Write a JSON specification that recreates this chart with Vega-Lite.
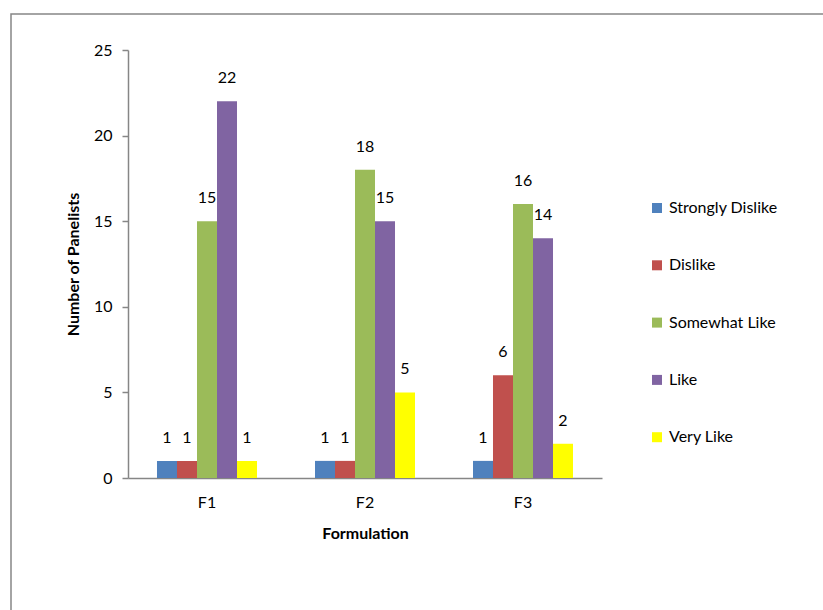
{
  "$schema": "https://vega.github.io/schema/vega-lite/v6.json",
  "width": 818,
  "height": 602,
  "autosize": "none",
  "padding": {"left": 11, "top": 14, "right": -6, "bottom": -6},
  "background": "white",
  "config": {
    "font": "Lato",
    "view": {"stroke": "#868686", "strokeWidth": 1.5},
    "axis": {"domainColor": "#868686", "domainWidth": 1.5, "tickColor": "#868686", "tickWidth": 1.5, "labelColor": "#000000", "titleColor": "#000000", "labelFont": "Lato", "titleFont": "Lato", "labelFontSize": 16, "titleFontSize": 16, "titleFontWeight": "bold", "grid": false}
  },
  "data": {
    "values": [
      {"formulation": "F1", "rating": "Strongly Dislike", "count": 1},
      {"formulation": "F1", "rating": "Dislike", "count": 1},
      {"formulation": "F1", "rating": "Somewhat Like", "count": 15},
      {"formulation": "F1", "rating": "Like", "count": 22},
      {"formulation": "F1", "rating": "Very Like", "count": 1},
      {"formulation": "F2", "rating": "Strongly Dislike", "count": 1},
      {"formulation": "F2", "rating": "Dislike", "count": 1},
      {"formulation": "F2", "rating": "Somewhat Like", "count": 18},
      {"formulation": "F2", "rating": "Like", "count": 15},
      {"formulation": "F2", "rating": "Very Like", "count": 5},
      {"formulation": "F3", "rating": "Strongly Dislike", "count": 1},
      {"formulation": "F3", "rating": "Dislike", "count": 6},
      {"formulation": "F3", "rating": "Somewhat Like", "count": 16},
      {"formulation": "F3", "rating": "Like", "count": 14},
      {"formulation": "F3", "rating": "Very Like", "count": 2}
    ]
  },
  "encoding": {
    "x": {
      "field": "formulation", "type": "nominal",
      "scale": {"range": [117, 591], "paddingInner": 0.367, "paddingOuter": 0.1835},
      "axis": {"title": "Formulation", "labelAngle": 0, "ticks": false, "offset": -138, "labelPadding": 16, "titlePadding": 15}
    },
    "xOffset": {
      "field": "rating", "type": "nominal",
      "sort": ["Strongly Dislike", "Dislike", "Somewhat Like", "Like", "Very Like"]
    },
    "y": {
      "field": "count", "type": "quantitative",
      "scale": {"domain": [0, 25], "range": [464, 36], "nice": false},
      "axis": {"title": "Number of Panelists", "values": [0, 5, 10, 15, 20, 25], "offset": -117, "tickSize": 6, "labelPadding": 10, "titlePadding": 12}
    }
  },
  "layer": [
    {
      "mark": {"type": "bar"},
      "encoding": {
        "color": {
          "field": "rating", "type": "nominal",
          "sort": ["Strongly Dislike", "Dislike", "Somewhat Like", "Like", "Very Like"],
          "scale": {"domain": ["Strongly Dislike", "Dislike", "Somewhat Like", "Like", "Very Like"], "range": ["#4F81BD", "#C0504D", "#9BBB59", "#8064A2", "#FFFF00"]},
          "legend": {"title": null, "orient": "none", "legendX": 638, "legendY": 186, "symbolType": "square", "symbolSize": 100, "symbolStrokeWidth": 0, "labelFont": "Lato", "labelFontSize": 16, "labelColor": "#000000", "rowPadding": 41.3, "padding": 0, "labelOffset": 4}
        }
      }
    },
    {
      "mark": {"type": "text", "baseline": "middle", "dy": -23, "fontSize": 16, "font": "Lato", "color": "#000000"},
      "encoding": {"text": {"field": "count", "type": "quantitative"}}
    }
  ]
}
